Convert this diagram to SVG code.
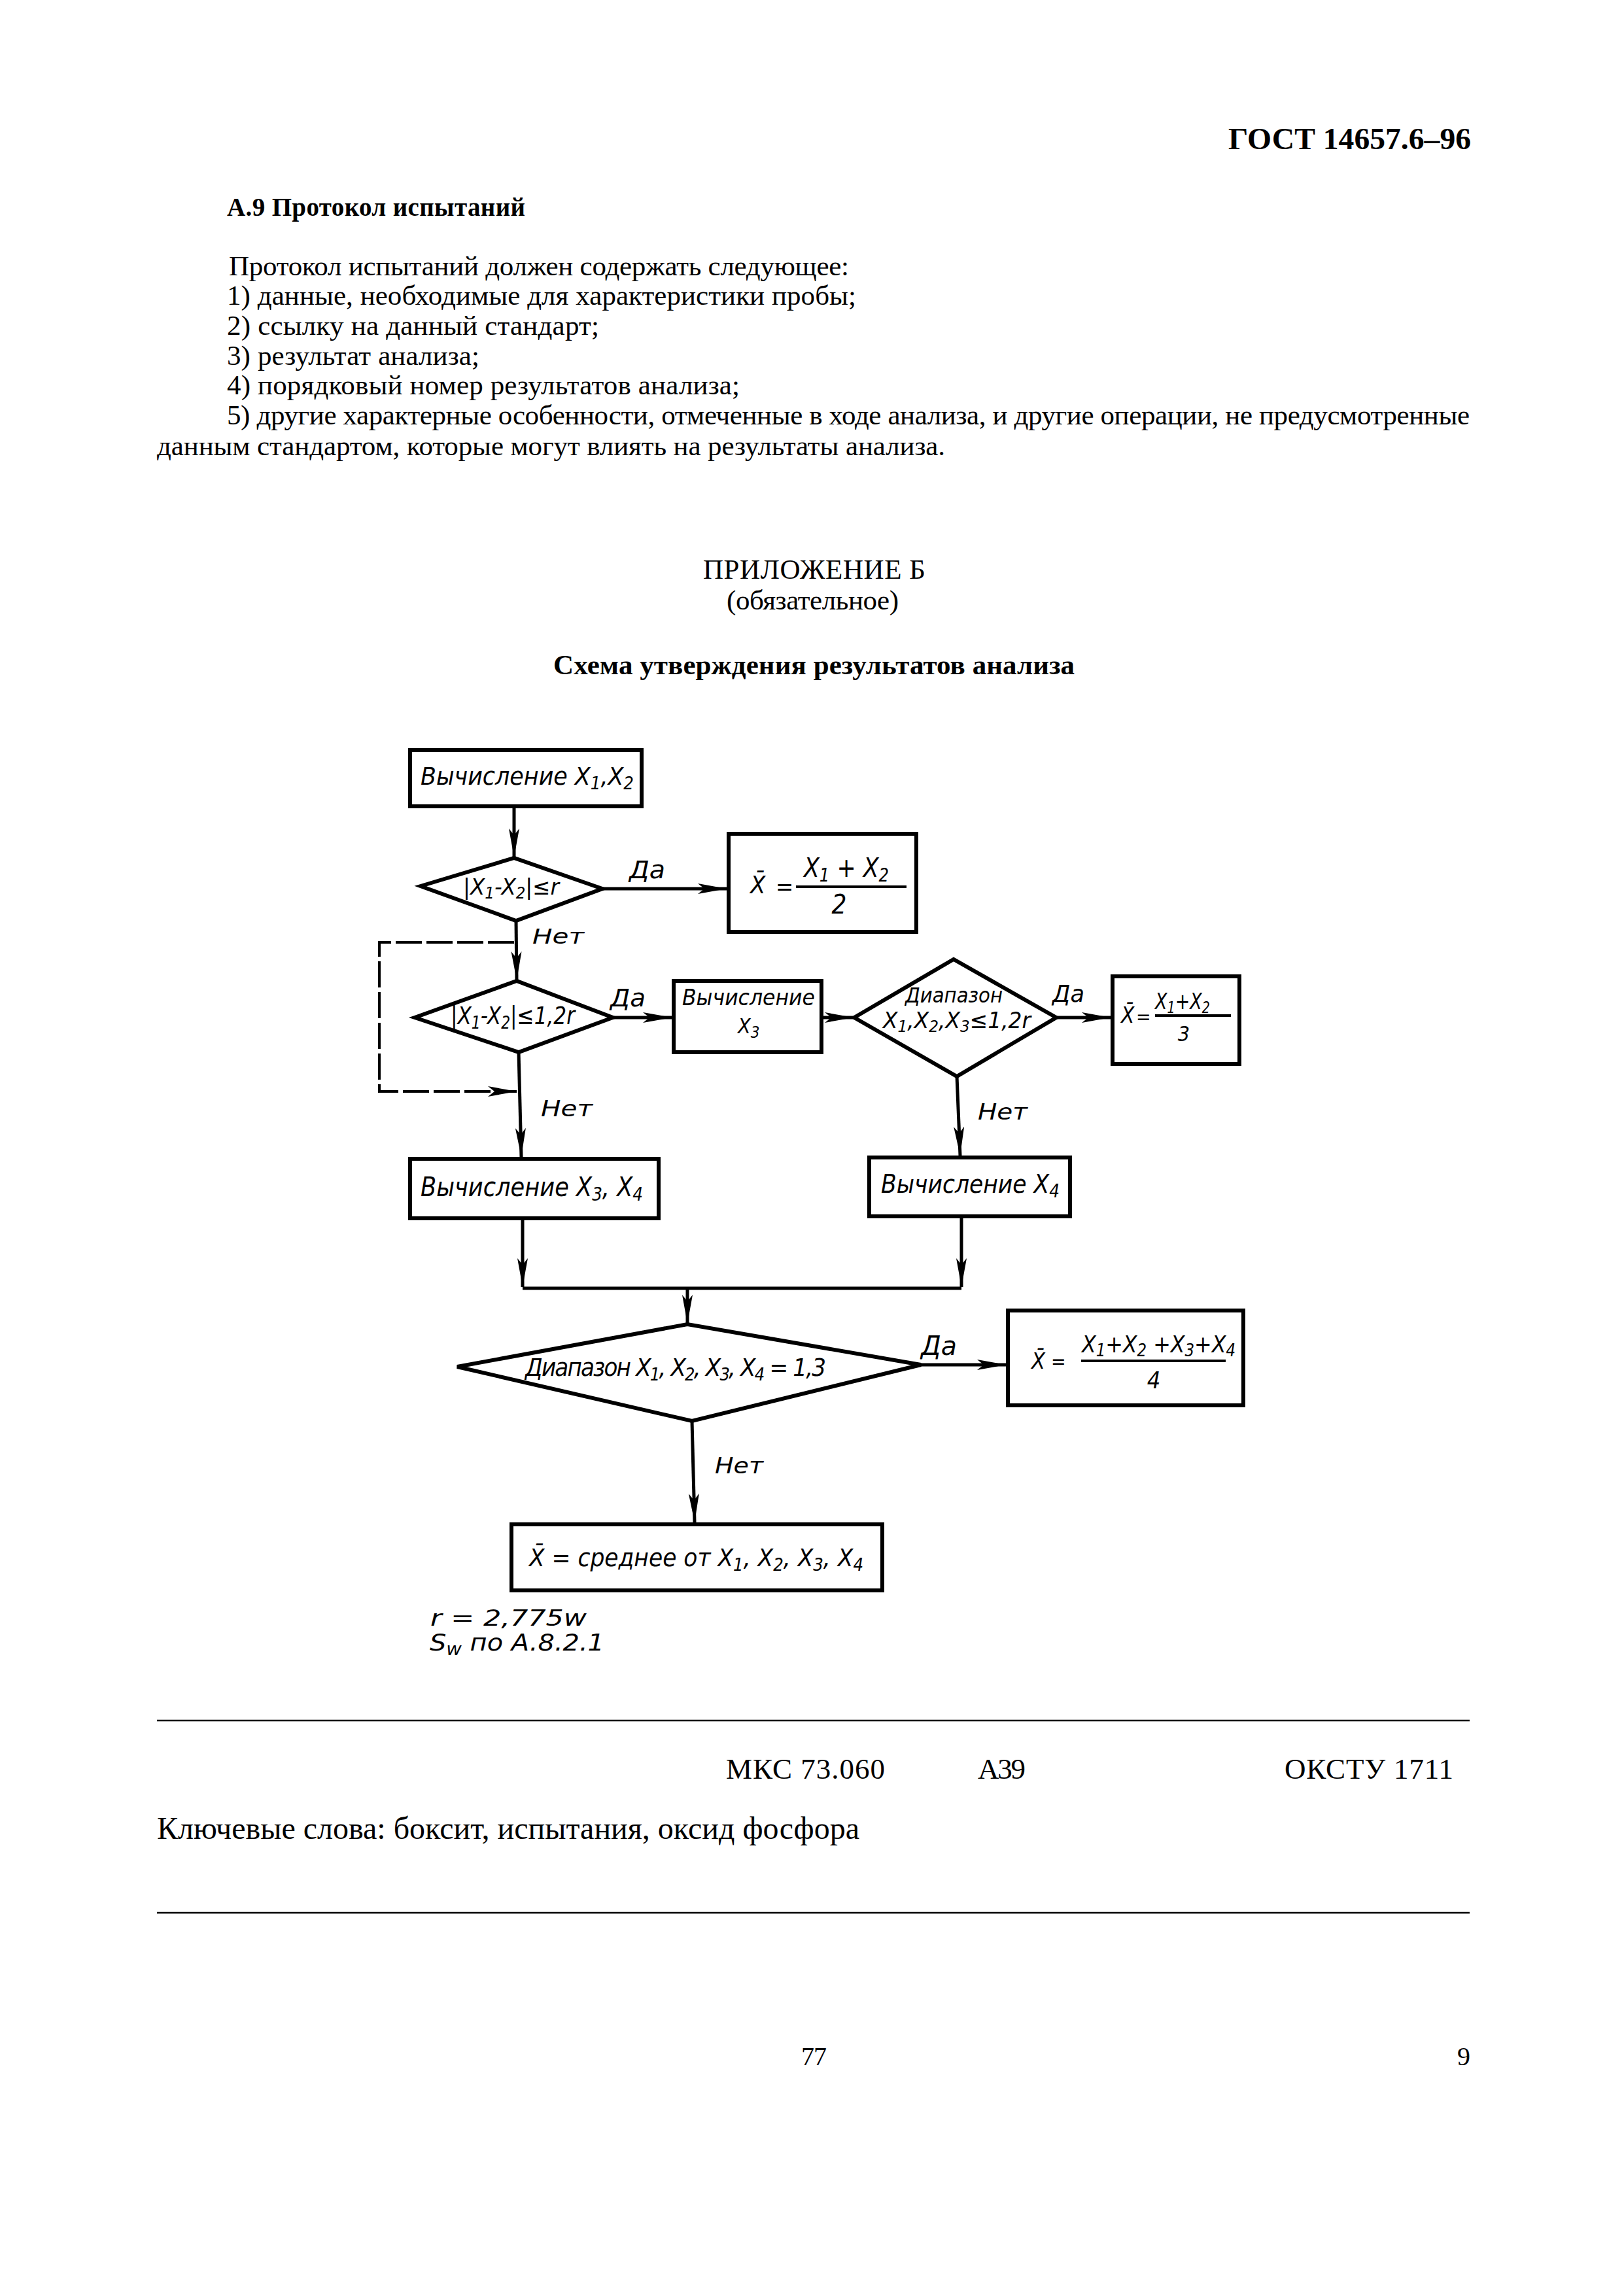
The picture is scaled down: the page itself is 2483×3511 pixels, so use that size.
<svg xmlns="http://www.w3.org/2000/svg" width="2483" height="3511" viewBox="0 0 2483 3511">
<style>
.s{font-family:"Liberation Serif","Times New Roman",serif;fill:#000}
.sb{font-family:"Liberation Serif","Times New Roman",serif;font-weight:bold;fill:#000}
.t{font-family:"Liberation Sans Narrow","DejaVu Sans Condensed","Liberation Sans",sans-serif;font-style:italic;fill:#000}
.box{fill:#fff;stroke:#000;stroke-width:6;stroke-linejoin:miter}
.c{fill:none;stroke:#000;stroke-width:5}
.dash{fill:none;stroke:#000;stroke-width:4;stroke-dasharray:40 7}
.frac{stroke:#000;stroke-width:4}
.rule{stroke:#000;stroke-width:2.5}
</style>
<defs>
<marker id="ah" markerUnits="userSpaceOnUse" markerWidth="46" markerHeight="18" refX="44" refY="9" orient="auto">
<path d="M0,1 L44,9 L0,17 L10,9 Z" fill="#000"/>
</marker>
</defs>
<rect width="2483" height="3511" fill="#fff"/>

<g id="page-text">
<text class="sb" x="2249" y="228" font-size="47" text-anchor="end" textLength="371" lengthAdjust="spacingAndGlyphs">ГОСТ 14657.6–96</text>
<text class="sb" x="347" y="330" font-size="39" textLength="456" lengthAdjust="spacing">А.9  Протокол испытаний</text>
<text class="s" x="350" y="421" font-size="43" textLength="948" lengthAdjust="spacing">Протокол испытаний должен содержать следующее:</text>
<text class="s" x="347" y="466" font-size="43" textLength="962" lengthAdjust="spacing">1)  данные, необходимые для характеристики пробы;</text>
<text class="s" x="347" y="512" font-size="43" textLength="569" lengthAdjust="spacing">2)  ссылку на данный стандарт;</text>
<text class="s" x="347" y="558" font-size="43" textLength="386" lengthAdjust="spacing">3)  результат анализа;</text>
<text class="s" x="347" y="603" font-size="43" textLength="784" lengthAdjust="spacing">4)  порядковый номер результатов анализа;</text>
<text class="s" x="347" y="649" font-size="43" textLength="1900" lengthAdjust="spacing">5)  другие характерные особенности, отмеченные в ходе анализа, и другие операции, не предусмотренные</text>
<text class="s" x="240" y="696" font-size="43" textLength="1205" lengthAdjust="spacing">данным стандартом, которые могут влиять на результаты анализа.</text>
<text class="s" x="1075" y="885" font-size="43" textLength="340" lengthAdjust="spacing">ПРИЛОЖЕНИЕ Б</text>
<text class="s" x="1111" y="932" font-size="43" textLength="263" lengthAdjust="spacing">(обязательное)</text>
<text class="sb" x="846" y="1031" font-size="43" textLength="797" lengthAdjust="spacing">Схема утверждения результатов анализа</text>
</g>

<g id="connectors">
<path class="c" d="M786,1234 L786,1311" marker-end="url(#ah)"/>
<path class="c" d="M921,1359 L1111,1359" marker-end="url(#ah)"/>
<path class="c" d="M789,1408 L790,1499" marker-end="url(#ah)"/>
<path class="dash" d="M786,1441 L580,1441 L580,1669 L790,1669" marker-end="url(#ah)"/>
<path class="c" d="M937,1556 L1027,1556" marker-end="url(#ah)"/>
<path class="c" d="M1256,1556 L1305,1556" marker-end="url(#ah)"/>
<path class="c" d="M1615,1556 L1698,1556" marker-end="url(#ah)"/>
<path class="c" d="M1463,1646 L1468,1767" marker-end="url(#ah)"/>
<path class="c" d="M793,1609 L797,1769" marker-end="url(#ah)"/>
<path class="c" d="M799,1863 L799,1968" marker-end="url(#ah)"/>
<path class="c" d="M1470,1860 L1470,1968" marker-end="url(#ah)"/>
<path class="c" d="M799,1970 L1470,1970"/>
<path class="c" d="M1051,1970 L1051,2024" marker-end="url(#ah)"/>
<path class="c" d="M1408,2087 L1538,2087" marker-end="url(#ah)"/>
<path class="c" d="M1058,2173 L1062,2328" marker-end="url(#ah)"/>
<text class="t" x="962" y="1343" font-size="37" textLength="55" lengthAdjust="spacingAndGlyphs">Да</text>
<text class="t" x="814" y="1443" font-size="32" textLength="79" lengthAdjust="spacingAndGlyphs">Нет</text>
<text class="t" x="933" y="1539" font-size="37" textLength="54" lengthAdjust="spacingAndGlyphs">Да</text>
<text class="t" x="827" y="1707" font-size="33" textLength="79" lengthAdjust="spacingAndGlyphs">Нет</text>
<text class="t" x="1609" y="1532" font-size="35" textLength="49" lengthAdjust="spacingAndGlyphs">Да</text>
<text class="t" x="1495" y="1712" font-size="34" textLength="76" lengthAdjust="spacingAndGlyphs">Нет</text>
<text class="t" x="1408" y="2072" font-size="40" textLength="55" lengthAdjust="spacingAndGlyphs">Да</text>
<text class="t" x="1093" y="2253" font-size="34" textLength="74" lengthAdjust="spacingAndGlyphs">Нет</text>
</g>

<g id="B1">
<rect class="box" x="627" y="1147" width="354" height="86"/>
<text class="t" x="643" y="1200" font-size="37" textLength="326" lengthAdjust="spacingAndGlyphs">Вычисление  X<tspan font-size="26" dy="7">1</tspan><tspan dy="-7">,X</tspan><tspan font-size="26" dy="7">2</tspan></text>
</g>

<g id="D1">
<polygon class="box" points="643,1355 786,1312 921,1359 789,1408"/>
<text class="t" x="708" y="1368" font-size="34" textLength="147" lengthAdjust="spacingAndGlyphs">|X<tspan font-size="24" dy="6">1</tspan><tspan dy="-6">-X</tspan><tspan font-size="24" dy="6">2</tspan><tspan dy="-6">|≤r</tspan></text>
</g>

<g id="B2">
<rect class="box" x="1114" y="1275" width="287" height="150"/>
<text class="t" x="1147" y="1366" font-size="38">X̄</text>
<text class="t" x="1186" y="1368" font-size="36">=</text>
<line class="frac" x1="1217" y1="1356" x2="1386" y2="1356"/>
<text class="t" x="1229" y="1341" font-size="40" textLength="130" lengthAdjust="spacingAndGlyphs">X<tspan font-size="28" dy="7">1</tspan><tspan dy="-7"> + X</tspan><tspan font-size="28" dy="7">2</tspan></text>
<text class="t" x="1283" y="1397" font-size="40" text-anchor="middle">2</text>
</g>

<g id="D2">
<polygon class="box" points="634,1556 790,1500 937,1556 793,1609"/>
<text class="t" x="689" y="1566" font-size="37" textLength="190" lengthAdjust="spacingAndGlyphs">|X<tspan font-size="26" dy="7">1</tspan><tspan dy="-7">-X</tspan><tspan font-size="26" dy="7">2</tspan><tspan dy="-7">|≤1,2r</tspan></text>
</g>

<g id="B3">
<rect class="box" x="1030" y="1500" width="226" height="109"/>
<text class="t" x="1043" y="1537" font-size="34" textLength="203" lengthAdjust="spacingAndGlyphs">Вычисление</text>
<text class="t" x="1128" y="1580" font-size="32">X<tspan font-size="24" dy="7">3</tspan></text>
</g>

<g id="D3">
<polygon class="box" points="1306,1556 1458,1467 1615,1556 1463,1646"/>
<text class="t" x="1384" y="1533" font-size="32" textLength="149" lengthAdjust="spacingAndGlyphs">Диапазон</text>
<text class="t" x="1350" y="1572" font-size="34" textLength="226" lengthAdjust="spacingAndGlyphs">X<tspan font-size="24" dy="6">1</tspan><tspan dy="-6">,X</tspan><tspan font-size="24" dy="6">2</tspan><tspan dy="-6">,X</tspan><tspan font-size="24" dy="6">3</tspan><tspan dy="-6">≤1,2r</tspan></text>
</g>

<g id="B4">
<rect class="box" x="1701" y="1493" width="194" height="134"/>
<text class="t" x="1714" y="1564" font-size="33">X̄</text>
<text class="t" x="1737" y="1565" font-size="30">=</text>
<line class="frac" x1="1766" y1="1553" x2="1882" y2="1553"/>
<text class="t" x="1766" y="1543" font-size="34" textLength="84" lengthAdjust="spacingAndGlyphs">X<tspan font-size="24" dy="6">1</tspan><tspan dy="-6">+X</tspan><tspan font-size="24" dy="6">2</tspan></text>
<text class="t" x="1810" y="1592" font-size="32" text-anchor="middle">3</text>
</g>

<g id="B5">
<rect class="box" x="1329" y="1770" width="307" height="90"/>
<text class="t" x="1347" y="1824" font-size="39" textLength="273" lengthAdjust="spacingAndGlyphs">Вычисление X<tspan font-size="28" dy="7">4</tspan></text>
</g>

<g id="B6">
<rect class="box" x="627" y="1772" width="380" height="91"/>
<text class="t" x="643" y="1829" font-size="40" textLength="340" lengthAdjust="spacingAndGlyphs">Вычисление X<tspan font-size="28" dy="7">3</tspan><tspan dy="-7">, X</tspan><tspan font-size="28" dy="7">4</tspan></text>
</g>

<g id="D4">
<polygon class="box" points="699,2090 1051,2025 1408,2087 1058,2173"/>
<text class="t" x="803" y="2104" font-size="38" textLength="460" lengthAdjust="spacing">Диапазон X<tspan font-size="27" dy="7">1</tspan><tspan dy="-7">, X</tspan><tspan font-size="27" dy="7">2</tspan><tspan dy="-7">, X</tspan><tspan font-size="27" dy="7">3</tspan><tspan dy="-7">, X</tspan><tspan font-size="27" dy="7">4</tspan><tspan dy="-7"> = 1,3</tspan></text>
</g>

<g id="B7">
<rect class="box" x="1541" y="2004" width="360" height="145"/>
<text class="t" x="1577" y="2093" font-size="34">X̄</text>
<text class="t" x="1607" y="2092" font-size="30">=</text>
<line class="frac" x1="1653" y1="2081" x2="1874" y2="2081"/>
<text class="t" x="1654" y="2068" font-size="36" textLength="235" lengthAdjust="spacingAndGlyphs">X<tspan font-size="26" dy="6">1</tspan><tspan dy="-6">+X</tspan><tspan font-size="26" dy="6">2</tspan><tspan dy="-6"> +X</tspan><tspan font-size="26" dy="6">3</tspan><tspan dy="-6">+X</tspan><tspan font-size="26" dy="6">4</tspan></text>
<text class="t" x="1764" y="2123" font-size="36" text-anchor="middle">4</text>
</g>

<g id="B8">
<rect class="box" x="782" y="2331" width="567" height="101"/>
<text class="t" x="809" y="2395" font-size="38" textLength="511" lengthAdjust="spacingAndGlyphs">X̄ = среднее от X<tspan font-size="27" dy="7">1</tspan><tspan dy="-7">, X</tspan><tspan font-size="27" dy="7">2</tspan><tspan dy="-7">, X</tspan><tspan font-size="27" dy="7">3</tspan><tspan dy="-7">, X</tspan><tspan font-size="27" dy="7">4</tspan></text>
</g>

<g id="note">
<text class="t" x="658" y="2486" font-size="34" textLength="239" lengthAdjust="spacingAndGlyphs">r = 2,775w</text>
<text class="t" x="657" y="2524" font-size="36" textLength="267" lengthAdjust="spacingAndGlyphs">S<tspan font-size="26" dy="7">w</tspan><tspan dy="-7"> по A.8.2.1</tspan></text>
</g>

<g id="footer">
<line class="rule" x1="240" y1="2631" x2="2247" y2="2631"/>
<text class="s" x="1110" y="2720" font-size="45" textLength="243" lengthAdjust="spacing">МКС 73.060</text>
<text class="s" x="1495" y="2720" font-size="45" textLength="73" lengthAdjust="spacing">А39</text>
<text class="s" x="1964" y="2720" font-size="45" textLength="258" lengthAdjust="spacing">ОКСТУ 1711</text>
<text class="s" x="240" y="2812" font-size="48" textLength="1074" lengthAdjust="spacing">Ключевые слова: боксит, испытания, оксид фосфора</text>
<line class="rule" x1="240" y1="2925" x2="2247" y2="2925"/>
<text class="s" x="1225" y="3158" font-size="40" textLength="39" lengthAdjust="spacing">77</text>
<text class="s" x="2228" y="3158" font-size="40" textLength="19" lengthAdjust="spacing">9</text>
</g>
</svg>
